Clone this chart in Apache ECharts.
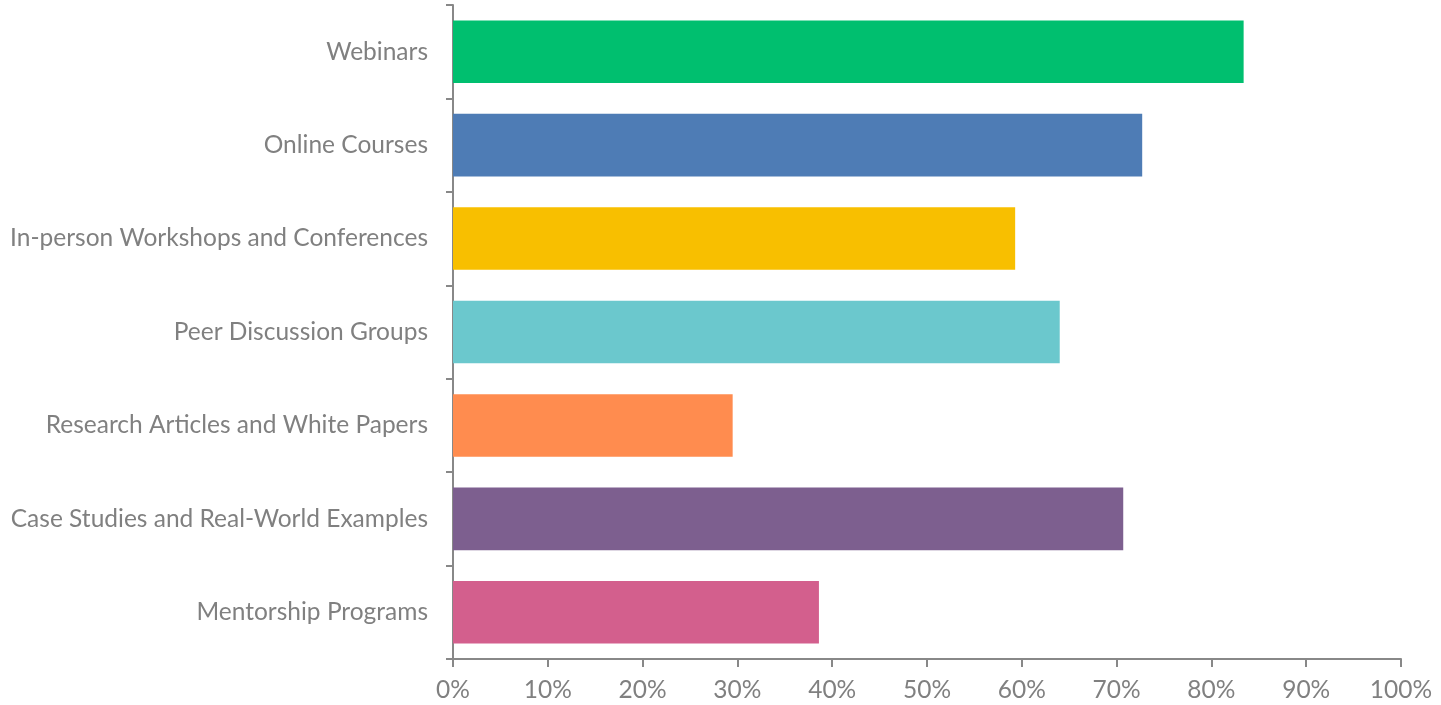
<!DOCTYPE html>
<html>
<head>
<meta charset="utf-8">
<script src="https://cdn.jsdelivr.net/npm/echarts@6/dist/echarts.min.js"></script>
<style>
html,body{margin:0;padding:0;background:#fff;}
#chart{width:1441px;height:705px;}
</style>
</head>
<body>
<div id="chart"></div>
<script>
const categories = [
  "Webinars",
  "Online Courses",
  "In-person Workshops and Conferences",
  "Peer Discussion Groups",
  "Research Articles and White Papers",
  "Case Studies and Real-World Examples",
  "Mentorship Programs"
];
const values = [83.4, 72.7, 59.3, 64.0, 29.5, 70.7, 38.6];
const colors = ["#00BF6F", "#4E7CB5", "#F8BF00", "#6BC8CD", "#FF8C4F", "#7D5F8F", "#D35F8D"];

const chart = echarts.init(document.getElementById('chart'));
chart.setOption({
  animation: false,
  grid: {left: 453, right: 40, top: 5, bottom: 46, containLabel: false},
  xAxis: {
    type: 'value',
    min: 0, max: 100, interval: 10,
    axisLine: {show: true, lineStyle: {color: '#888888', width: 2}},
    axisTick: {show: true, length: 8, lineStyle: {color: '#888888', width: 2}},
    splitLine: {show: false},
    axisLabel: {formatter: '{value}%', color: '#808080', fontFamily: 'Lato', fontSize: 24.5, margin: 19}
  },
  yAxis: {
    type: 'category',
    data: categories,
    inverse: true,
    axisLine: {show: true, lineStyle: {color: '#888888', width: 2}},
    axisTick: {show: true, length: 7, lineStyle: {color: '#888888', width: 2}},
    axisLabel: {color: '#808080', fontFamily: 'Lato', fontSize: 24.5, margin: 25}
  },
  series: [{
    type: 'bar',
    data: values.map((v, i) => ({value: v, itemStyle: {color: colors[i]}})),
    barCategoryGap: '33%'
  }]
});
</script>
</body>
</html>
